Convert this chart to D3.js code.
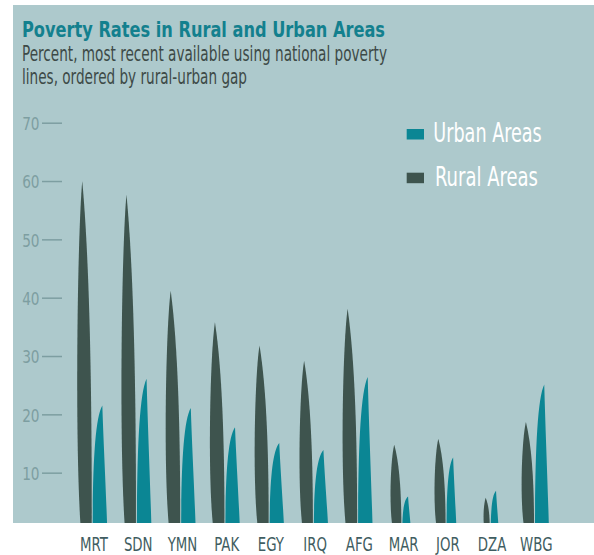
<!DOCTYPE html>
<html>
<head>
<meta charset="utf-8">
<script src="https://cdn.jsdelivr.net/npm/d3@7/dist/d3.min.js"></script>
<style>
  html, body { margin: 0; padding: 0; background: #ffffff; }
  svg { display: block; }
  text { font-family: "Liberation Sans Narrow", "DejaVu Sans Condensed", "Roboto", sans-serif; }
</style>
</head>
<body>
<svg id="chart" width="594" height="555"></svg>
<script>
// ---- data ----
const categories = ["MRT", "SDN", "YMN", "PAK", "EGY", "IRQ", "AFG", "MAR", "JOR", "DZA", "WBG"];
const rural = [60.0, 57.7, 41.2, 35.8, 31.8, 29.2, 38.1, 14.8, 15.8, 5.7, 18.7];
const urban = [21.5, 26.1, 21.1, 17.8, 15.1, 13.9, 26.4, 5.9, 12.6, 6.9, 25.1];
const yTickValues = [10, 20, 30, 40, 50, 60, 70];
const legendLabels = ["Urban Areas", "Rural Areas"];
const titleText = "Poverty Rates in Rural and Urban Areas";
const subtitleLines = ["Percent, most recent available using national poverty", "lines, ordered by rural-urban gap"];

// ---- styles ----
const C = {
  bg: "#adc9cc",
  rural: "#3e544e",
  urban: "#0b8694",
  title: "#13808e",
  subtitle: "#3d4a47",
  tick: "#7d9ea1",
  xlabel: "#3f5d61",
  legendText: "#ffffff"
};

const svg = d3.select("#chart");
const panel = { x: 13, y: 5, w: 581, h: 518 };

svg.append("rect")
  .attr("x", panel.x).attr("y", panel.y)
  .attr("width", panel.w).attr("height", panel.h)
  .attr("fill", C.bg);

svg.append("defs").append("clipPath").attr("id", "panelClip")
  .append("rect")
  .attr("x", panel.x).attr("y", panel.y)
  .attr("width", panel.w).attr("height", panel.h);

// ---- scales ----
const y = d3.scaleLinear().domain([0, 70]).range([531.0, 122.7]);
const x = d3.scalePoint().domain(categories).range([93.5, 535.8]);

const groupMax = categories.map((c, i) => Math.max(rural[i], urban[i]));
const ruralWidth = d3.scaleLinear().domain([0, 7, 15, 25, 34]).range([3, 6.5, 11.3, 12.8, 15]).clamp(true);
const urbanWidth = d3.scaleLinear().domain([0, 7, 14.8, 15.8, 25, 30]).range([6, 8, 8.7, 10, 14, 14.6]).clamp(true);

// ---- title ----
svg.append("text")
  .attr("x", 22).attr("y", 37.3)
  .attr("font-size", 21.5).attr("font-weight", "bold")
  .attr("fill", C.title)
  .attr("textLength", 363).attr("lengthAdjust", "spacingAndGlyphs")
  .text(titleText);

const subWidths = [365, 225];
subtitleLines.forEach((line, i) => {
  svg.append("text")
    .attr("x", 22).attr("y", 60.5 + i * 23)
    .attr("font-size", 21.5)
    .attr("fill", C.subtitle)
    .attr("textLength", subWidths[i]).attr("lengthAdjust", "spacingAndGlyphs")
    .text(line);
});

// ---- y axis ----
const yAxis = svg.append("g")
  .attr("transform", "translate(62,0)")
  .call(d3.axisLeft(y).tickValues(yTickValues).tickSize(20).tickPadding(2.5));
yAxis.select(".domain").remove();
yAxis.selectAll(".tick line").attr("stroke", C.tick).attr("stroke-width", 1.5);
yAxis.selectAll(".tick text")
  .attr("fill", C.tick)
  .attr("font-size", 18.5)
  .attr("font-family", "\"Liberation Sans Narrow\", \"DejaVu Sans Condensed\", sans-serif")
  .attr("dy", "0.36em")
  .each(function () {
    const L = this.getComputedTextLength();
    d3.select(this).attr("textLength", L * 0.82).attr("lengthAdjust", "spacingAndGlyphs");
  });

// ---- shapes ----
const plot = svg.append("g").attr("clip-path", "url(#panelClip)");

function ruralPath(i) {
  const R = x(categories[i]) - 1.8;
  const W = ruralWidth(groupMax[i]);
  const y0 = y(0), yt = y(rural[i]);
  const h = y0 - yt;
  const P = (u, s) => [R + u * W, y0 - s * h];
  const p = d3.path();
  p.moveTo(...P(0, 0));
  p.bezierCurveTo(...P(0.02, 0.35), ...P(-0.1, 0.75), ...P(-0.63, 1));
  p.bezierCurveTo(...P(-0.95, 0.85), ...P(-1.15, 0.25), ...P(-0.72, 0));
  p.closePath();
  return p.toString();
}

function urbanPath(i) {
  const L = x(categories[i]) - 0.8;
  const W = urbanWidth(groupMax[i]);
  const y0 = y(0), yt = y(urban[i]);
  const h = y0 - yt;
  const P = (u, s) => [L + u * W, y0 - s * h];
  const p = d3.path();
  p.moveTo(...P(0, 0));
  p.bezierCurveTo(...P(0.0, 0.5), ...P(0.15, 0.9), ...P(0.66, 1));
  p.bezierCurveTo(...P(0.74, 0.7), ...P(0.92, 0.3), ...P(1.0, 0));
  p.closePath();
  return p.toString();
}

plot.selectAll("path.rural")
  .data(categories)
  .join("path")
  .attr("class", "rural")
  .attr("d", (d, i) => ruralPath(i))
  .attr("fill", C.rural);

plot.selectAll("path.urban")
  .data(categories)
  .join("path")
  .attr("class", "urban")
  .attr("d", (d, i) => urbanPath(i))
  .attr("fill", C.urban);

// ---- x labels ----
const xAxis = svg.append("g")
  .attr("transform", "translate(0,523)")
  .call(d3.axisBottom(x).tickSize(0).tickPadding(0));
xAxis.select(".domain").remove();
xAxis.selectAll(".tick text")
  .attr("fill", C.xlabel)
  .attr("font-size", 19.5)
  .attr("font-family", "\"Liberation Sans Narrow\", \"DejaVu Sans Condensed\", sans-serif")
  .attr("dy", null)
  .attr("y", 27.5)
  .each(function () {
    const L = this.getComputedTextLength();
    d3.select(this).attr("textLength", L * 0.76).attr("lengthAdjust", "spacingAndGlyphs");
  });

// ---- legend ----
const legendColors = [C.urban, C.rural];
const legendY = [129, 172.7];
const legendTextW = [108.5, 103];
const legendBase = [142.3, 186];
legendLabels.forEach((lab, i) => {
  svg.append("rect")
    .attr("x", 406.7).attr("y", legendY[i])
    .attr("width", 17.3).attr("height", 10.5)
    .attr("fill", legendColors[i]);
  svg.append("text")
    .attr("x", i === 0 ? 433.3 : 435).attr("y", legendBase[i])
    .attr("font-size", 26.5)
    .attr("fill", C.legendText)
    .attr("textLength", legendTextW[i]).attr("lengthAdjust", "spacingAndGlyphs")
    .text(lab);
});
</script>
</body>
</html>
